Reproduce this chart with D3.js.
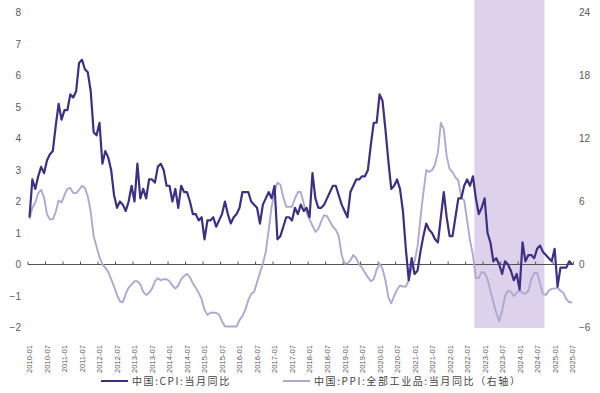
<html>
<head>
<meta charset="utf-8">
<style>
  body { margin: 0; background: #fff; }
  .axis text { fill: #5a5a5a; font-family: "Liberation Sans", Arial, sans-serif; font-size: 10px; }
  .axis--x text { font-size: 7.6px; }
  .legend text { fill: #444; font-family: "Noto Sans CJK SC", sans-serif; font-size: 10px; letter-spacing: 1.6px; }
</style>
</head>
<body>
<svg width="600" height="393"></svg>
<script src="https://d3js.org/d3.v7.min.js"></script>
<script>
// monthly categories 2010-01 .. 2025-07
var fmt = d3.timeFormat("%Y-%m");
var months = d3.timeMonth.range(new Date(2010, 0, 1), new Date(2025, 7, 1)).map(fmt);

// China CPI YoY (%), left axis
var cpi = [
  1.5, 2.7, 2.4, 2.8, 3.1, 2.9, 3.3, 3.5, 3.6, 4.4, 5.1, 4.6,
  4.9, 4.9, 5.4, 5.3, 5.5, 6.4, 6.5, 6.2, 6.1, 5.5, 4.2, 4.1,
  4.5, 3.2, 3.6, 3.4, 3.0, 2.2, 1.8, 2.0, 1.9, 1.7, 2.0, 2.5,
  2.0, 3.2, 2.1, 2.4, 2.1, 2.7, 2.7, 2.6, 3.1, 3.2, 3.0, 2.5,
  2.5, 2.0, 2.4, 1.8, 2.5, 2.3, 2.3, 2.0, 1.6, 1.6, 1.4, 1.5,
  0.8, 1.4, 1.4, 1.5, 1.2, 1.4, 1.6, 2.0, 1.6, 1.3, 1.5, 1.6,
  1.8, 2.3, 2.3, 2.3, 2.0, 1.9, 1.8, 1.3, 1.9, 2.1, 2.3, 2.1,
  2.5, 0.8, 0.9, 1.2, 1.5, 1.5, 1.4, 1.8, 1.6, 1.9, 1.7, 1.8,
  1.5, 2.9, 2.1, 1.8, 1.8, 1.9, 2.1, 2.3, 2.5, 2.5, 2.2, 1.9,
  1.7, 1.5, 2.3, 2.5, 2.7, 2.7, 2.8, 2.8, 3.0, 3.8, 4.5, 4.5,
  5.4, 5.2, 4.3, 3.3, 2.4, 2.5, 2.7, 2.4, 1.7, 0.5, -0.5, 0.2,
  -0.3, -0.2, 0.4, 0.9, 1.3, 1.1, 1.0, 0.8, 0.7, 1.5, 2.3, 1.5,
  0.9, 0.9, 1.5, 2.1, 2.1, 2.5, 2.7, 2.5, 2.8, 2.1, 1.6, 1.8,
  2.1, 1.0, 0.7, 0.1, 0.2, 0.0, -0.3, 0.1, 0.0, -0.2, -0.5, -0.3,
  -0.8, 0.7, 0.1, 0.3, 0.3, 0.2, 0.5, 0.6, 0.4, 0.3, 0.2, 0.1,
  0.5, -0.7, -0.1, -0.1, -0.1, 0.1, 0.0
];

// China PPI YoY (%), right axis
var ppi = [
  4.3, 5.4, 5.9, 6.8, 7.1, 6.4, 4.8, 4.3, 4.3, 5.0, 6.1, 5.9,
  6.6, 7.2, 7.3, 6.8, 6.8, 7.1, 7.5, 7.3, 6.5, 5.0, 2.7, 1.7,
  0.7, 0.0, -0.3, -0.7, -1.4, -2.1, -2.9, -3.5, -3.6, -2.8, -2.2, -1.9,
  -1.6, -1.6, -1.9, -2.6, -2.9, -2.7, -2.3, -1.6, -1.3, -1.5, -1.4, -1.4,
  -1.6, -2.0, -2.3, -2.0, -1.4, -1.1, -0.9, -1.2, -1.8, -2.2, -2.7, -3.3,
  -4.3, -4.8, -4.6, -4.6, -4.6, -4.8, -5.4, -5.9, -5.9, -5.9, -5.9, -5.9,
  -5.3, -4.9, -4.3, -3.4, -2.8, -2.6, -1.7, -0.8, 0.1, 1.2, 3.3, 5.5,
  6.9, 7.8, 7.6, 6.4, 5.5, 5.5, 5.5, 6.3, 6.9, 6.9, 5.8, 4.9,
  4.3, 3.7, 3.1, 3.4, 4.1, 4.7, 4.6, 4.1, 3.6, 3.3, 2.7, 0.9,
  0.1, 0.1, 0.4, 0.9, 0.6, 0.0, -0.3, -0.8, -1.2, -1.6, -1.4, -0.5,
  0.1, -0.4, -1.5, -3.1, -3.7, -3.0, -2.4, -2.0, -2.1, -2.1, -1.5, -0.4,
  0.3, 1.7, 4.4, 6.8, 9.0, 8.8, 9.0, 9.5, 10.7, 13.5, 12.9, 10.3,
  9.1, 8.8, 8.3, 8.0, 6.4, 6.1, 4.2, 2.3, 0.9, -1.3, -1.3, -0.7,
  -0.8, -1.4, -2.5, -3.6, -4.6, -5.4, -4.4, -3.0, -2.5, -2.6, -3.0, -2.7,
  -2.5, -2.7, -2.8, -2.5, -1.4, -0.8, -0.8, -1.8, -2.8, -2.9, -2.5, -2.3,
  -2.3, -2.2, -2.5, -2.7, -3.3, -3.6, -3.6
];

var leftTicks = [-2, -1, 0, 1, 2, 3, 4, 5, 6, 7, 8];
var rightTicks = [-6, 0, 6, 12, 18, 24];
var shadeRange = ["2022-10", "2024-09"];
var seriesNames = ["中国:CPI:当月同比", "中国:PPI:全部工业品:当月同比（右轴）"];

var labelMonths = months.filter(function (m) { return /-(01|07)$/.test(m); });

var svg = d3.select("svg");

var x = d3.scaleBand().domain(months).range([28, 573.6]).padding(0);
var bw = x.bandwidth();
var xc = d3.scalePoint().domain(months).range([28 + bw / 2, 573.6 - bw / 2]);
var yL = d3.scaleLinear().domain([-2, 8]).range([327.5, 12.5]);
var yR = d3.scaleLinear().domain([-6, 24]).range([327.5, 12.5]);

// shaded period
svg.append("rect")
  .attr("x", x(shadeRange[0]))
  .attr("y", 0)
  .attr("width", x(shadeRange[1]) + bw - x(shadeRange[0]))
  .attr("height", 328)
  .attr("fill", "#ddd1ec");

// y axes
svg.append("g")
  .attr("class", "axis axis--left")
  .attr("transform", "translate(21,0)")
  .call(d3.axisLeft(yL).tickValues(leftTicks).tickSize(0).tickPadding(0).tickFormat(d3.format("d")))
  .call(function (g) { g.select(".domain").remove(); });

svg.append("g")
  .attr("class", "axis axis--right")
  .attr("transform", "translate(579,0)")
  .call(d3.axisRight(yR).tickValues(rightTicks).tickSize(0).tickPadding(0).tickFormat(d3.format("d")))
  .call(function (g) { g.select(".domain").remove(); });

// x labels at bottom
svg.append("g")
  .attr("class", "axis axis--x")
  .attr("transform", "translate(0,344)")
  .call(d3.axisBottom(xc).tickValues(labelMonths).tickSize(0).tickPadding(0))
  .call(function (g) { g.select(".domain").remove(); })
  .selectAll("text")
  .attr("transform", "rotate(-90)")
  .attr("text-anchor", "end")
  .attr("x", -1)
  .attr("y", 0)
  .attr("dy", "0.32em");

// zero line with ticks
var y0 = yL(0);
svg.append("line")
  .attr("x1", 28).attr("x2", 573.6)
  .attr("y1", y0).attr("y2", y0)
  .attr("stroke", "#555").attr("stroke-width", 1);

svg.append("g").selectAll("line")
  .data(labelMonths.concat(["end"]))
  .enter().append("line")
  .attr("x1", function (d) { return d === "end" ? 573.6 : x(d); })
  .attr("x2", function (d) { return d === "end" ? 573.6 : x(d); })
  .attr("y1", y0).attr("y2", y0 - 3)
  .attr("stroke", "#555").attr("stroke-width", 1);

// lines
var linePpi = d3.line()
  .x(function (d, i) { return xc(months[i]); })
  .y(function (d) { return yR(d); });
var lineCpi = d3.line()
  .x(function (d, i) { return xc(months[i]); })
  .y(function (d) { return yL(d); });

svg.append("path")
  .datum(ppi)
  .attr("d", linePpi)
  .attr("fill", "none")
  .attr("stroke", "#aea9cf")
  .attr("stroke-width", 1.9)
  .attr("stroke-linejoin", "round");

svg.append("path")
  .datum(cpi)
  .attr("d", lineCpi)
  .attr("fill", "none")
  .attr("stroke", "#3e2f82")
  .attr("stroke-width", 2.2)
  .attr("stroke-linejoin", "round");

// legend
var legend = svg.append("g").attr("class", "legend");
var legendItems = [
  {name: seriesNames[0], color: "#3e2f82", x: 101},
  {name: seriesNames[1], color: "#aea9cf", x: 283}
];
legendItems.forEach(function (d) {
  legend.append("line")
    .attr("x1", d.x).attr("x2", d.x + 27)
    .attr("y1", 381).attr("y2", 381)
    .attr("stroke", d.color).attr("stroke-width", 2);
  legend.append("text")
    .attr("x", d.x + 31)
    .attr("y", 381)
    .attr("dy", "0.35em")
    .text(d.name);
});
</script>
</body>
</html>
